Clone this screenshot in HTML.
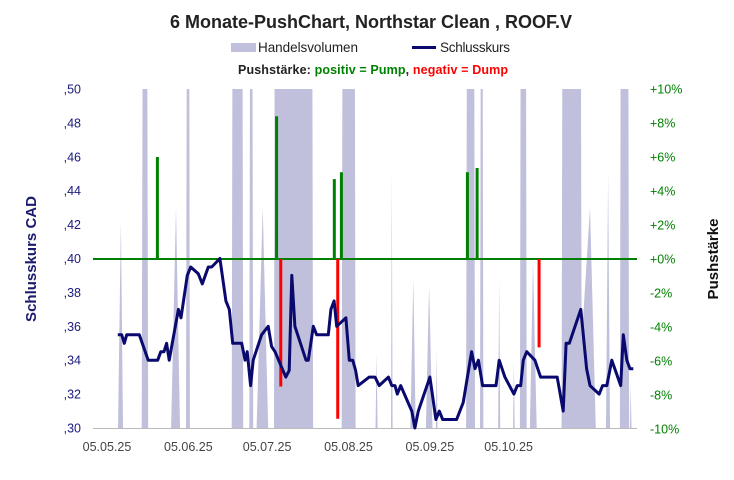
<!DOCTYPE html>
<html><head><meta charset="utf-8"><style>
body{margin:0;background:#fff;}
svg{display:block;font-family:"Liberation Sans Narrow","Liberation Sans",sans-serif;}
</style></head><body>
<svg id="chart" width="734" height="480" viewBox="0 0 734 480">
<defs><clipPath id="plotclip"><rect x="93" y="89" width="544" height="339"/></clipPath></defs>
<text x="371" y="28" text-anchor="middle" font-size="18" font-weight="bold" fill="#222">6 Monate-PushChart,  Northstar Clean , ROOF.V</text>
<g>
<rect x="231" y="43" width="25" height="9" fill="#c0c0dc"/>
<text x="258" y="52" font-size="13.5" fill="#222" textLength="100">Handelsvolumen</text>
<line x1="412" y1="47.5" x2="436" y2="47.5" stroke="#0a0a6e" stroke-width="3"/>
<text x="440" y="52" font-size="13.5" fill="#222" textLength="70">Schlusskurs</text>
<text x="238" y="74" font-size="12.5" font-weight="bold" fill="#222" textLength="270">Pushstärke:  <tspan fill="#008000">positiv = Pump</tspan>,  <tspan fill="#ff0000">negativ = Dump</tspan></text>
</g>
<text transform="translate(36,259) rotate(-90)" text-anchor="middle" font-size="15" font-weight="bold" fill="#1a1a6e">Schlusskurs CAD</text>
<text transform="translate(718,259) rotate(-90)" text-anchor="middle" font-size="15" font-weight="bold" fill="#111">Pushstärke</text>
<g id="vol" clip-path="url(#plotclip)"></g>
<line x1="93" y1="428.5" x2="637" y2="428.5" stroke="#bbb" stroke-width="1"/>
<g id="push"></g>
<g id="price"></g>
<g id="axes"></g>
</svg>
<script>
const priceDays=[4.1,5.6,6.6,7.5,12.3,15.7,19.3,20.5,21.7,22.7,23.7,27.2,28.2,30.6,31.9,34.8,36.3,38.6,39.9,43.0,45.3,46.6,47.9,51.3,52.6,53.4,54.7,55.7,58.9,61.4,62.7,64.0,68.1,69.4,70.4,71.6,75.8,76.7,78.6,79.9,84.3,85.3,86.5,87.5,91.0,92.3,93.6,94.7,95.7,99.9,102.1,103.7,107.2,108.5,109.7,110.6,111.9,116.1,117.3,118.6,123.0,125.3,126.6,127.9,133.2,135.7,138.9,140.2,141.5,143.1,148.2,149.4,151.6,155.0,156.3,157.6,158.6,159.9,163.0,165.2,171.5,173.8,174.9,176.1,180.5,182.7,184.0,187.5,188.8,190.4,192.3,195.7,196.7,198.0,199.2,200.5];
const priceVals=[.355,.355,.35,.355,.355,.34,.34,.345,.345,.35,.34,.37,.365,.39,.395,.391,.385,.395,.395,.40,.375,.37,.35,.35,.34,.345,.325,.34,.355,.36,.348,.345,.33,.334,.39,.36,.34,.34,.36,.355,.355,.37,.375,.36,.365,.34,.34,.334,.325,.33,.33,.325,.33,.325,.325,.32,.325,.31,.30,.31,.33,.305,.31,.305,.305,.315,.345,.335,.34,.325,.325,.34,.33,.32,.325,.325,.34,.345,.34,.33,.33,.31,.35,.35,.37,.335,.325,.32,.325,.325,.34,.325,.355,.34,.335,.335];
const pushDays=[19.2,64.6,66.2,86.6,87.9,89.3,137.3,141.0,164.6];
const pushVals=[6.0,8.4,-7.5,4.7,-9.4,5.1,5.1,5.35,-5.2];
const volDays=[0,4.2,5.3,6.1,13.2,13.6,15.3,15.7,24.4,26.3,27.8,30.1,30.4,31.3,31.6,47.5,47.8,51.6,51.9,54.2,54.5,55.4,55.7,57.0,59.3,61.4,63.6,63.9,78.2,78.5,89.4,89.7,94.4,94.7,102.3,102.7,103.1,108.2,108.5,108.8,115.6,116.7,117.6,121.5,122.7,124.0,125.3,125.6,125.9,136.8,137.1,139.9,140.2,142.1,142.4,143.1,143.4,149.0,149.4,149.8,154.7,155,155.3,157.3,157.6,159.6,159.9,161.1,162.3,163.7,173.2,173.5,180.5,180.8,181.2,184.0,186.2,190.1,190.9,191.6,195.4,195.7,198.6,198.9,199.2,199.5,199.8,201];
const volVals=[0,0,61,0,0,120,120,0,0,65,0,0,120,120,0,0,120,120,0,0,120,120,0,0,65,0,0,120,120,0,0,120,120,0,0,22,0,0,76,0,0,44,0,0,42,0,0,23,0,0,120,120,0,0,120,120,0,0,44,0,0,20,0,0,120,120,0,0,49,0,0,120,120,30,30,65,0,0,75,0,0,120,120,0,0,13,0,0];
const leftTicks=[",30",",32",",34",",36",",38",",40",",42",",44",",46",",48",",50"];
const leftTickVals=[.30,.32,.34,.36,.38,.40,.42,.44,.46,.48,.50];
const rightTicks=["-10%","-8%","-6%","-4%","-2%","+0%","+2%","+4%","+6%","+8%","+10%"];
const rightTickVals=[-10,-8,-6,-4,-2,0,2,4,6,8,10];
const xTicks=["05.05.25","05.06.25","05.07.25","05.08.25","05.09.25","05.10.25"];
const xTickDays=[0,31,61,92,123,153];

const NS="http://www.w3.org/2000/svg";
const X0=107,PX=2.625,TOP=89,BOT=428;
const xs=d=>X0+d*PX;
const yP=p=>BOT-(p-0.30)/0.20*(BOT-TOP);
const yPush=v=>259-v/10*(259-TOP);
const yV=v=>BOT-v/100*(BOT-TOP);
function mk(tag,attrs,parent){const e=document.createElementNS(NS,tag);for(const k in attrs)e.setAttribute(k,attrs[k]);parent.appendChild(e);return e;}

const gv=document.getElementById('vol');
let vp=volDays.map((d,i)=>xs(d).toFixed(1)+','+yV(volVals[i]).toFixed(1)).join(' ');
const va=mk('polygon',{points:vp+' '+xs(volDays[volDays.length-1])+','+BOT+' '+xs(volDays[0])+','+BOT,fill:'#c0c0dc'},gv);



const gp=document.getElementById('push');
const zl=mk('line',{x1:93,x2:637,y1:yPush(0),y2:yPush(0),stroke:'#008000','stroke-width':2},gp);


pushDays.forEach((d,i)=>{
 const v=pushVals[i];
 const b=mk('line',{x1:xs(d),x2:xs(d),y1:yPush(0),y2:yPush(v),stroke:v>=0?'#008000':'#ff0000','stroke-width':3},gp);
 
 
});

const gl=document.getElementById('price');
const pl=mk('polyline',{points:priceDays.map((d,i)=>xs(d).toFixed(1)+','+yP(priceVals[i]).toFixed(1)).join(' '),fill:'none',stroke:'#0a0a6e','stroke-width':3,'stroke-linejoin':'round'},gl);



const ga=document.getElementById('axes');
leftTicks.forEach((t,i)=>{
 const e=mk('text',{x:81,y:yP(leftTickVals[i])+4.5,'text-anchor':'end','font-size':12.5,fill:'#1a1a7e'},ga);
 e.textContent=t;
 
 
});
rightTicks.forEach((t,i)=>{
 const e=mk('text',{x:650,y:yPush(rightTickVals[i])+4.5,'font-size':12.5,fill:'#008000'},ga);
 e.textContent=t;
 
 
});
xTicks.forEach((t,i)=>{
 const e=mk('text',{x:xs(xTickDays[i]),y:451,'text-anchor':'middle','font-size':12.5,fill:'#444'},ga);
 e.textContent=t;
 
 
});
</script>
</body></html>
